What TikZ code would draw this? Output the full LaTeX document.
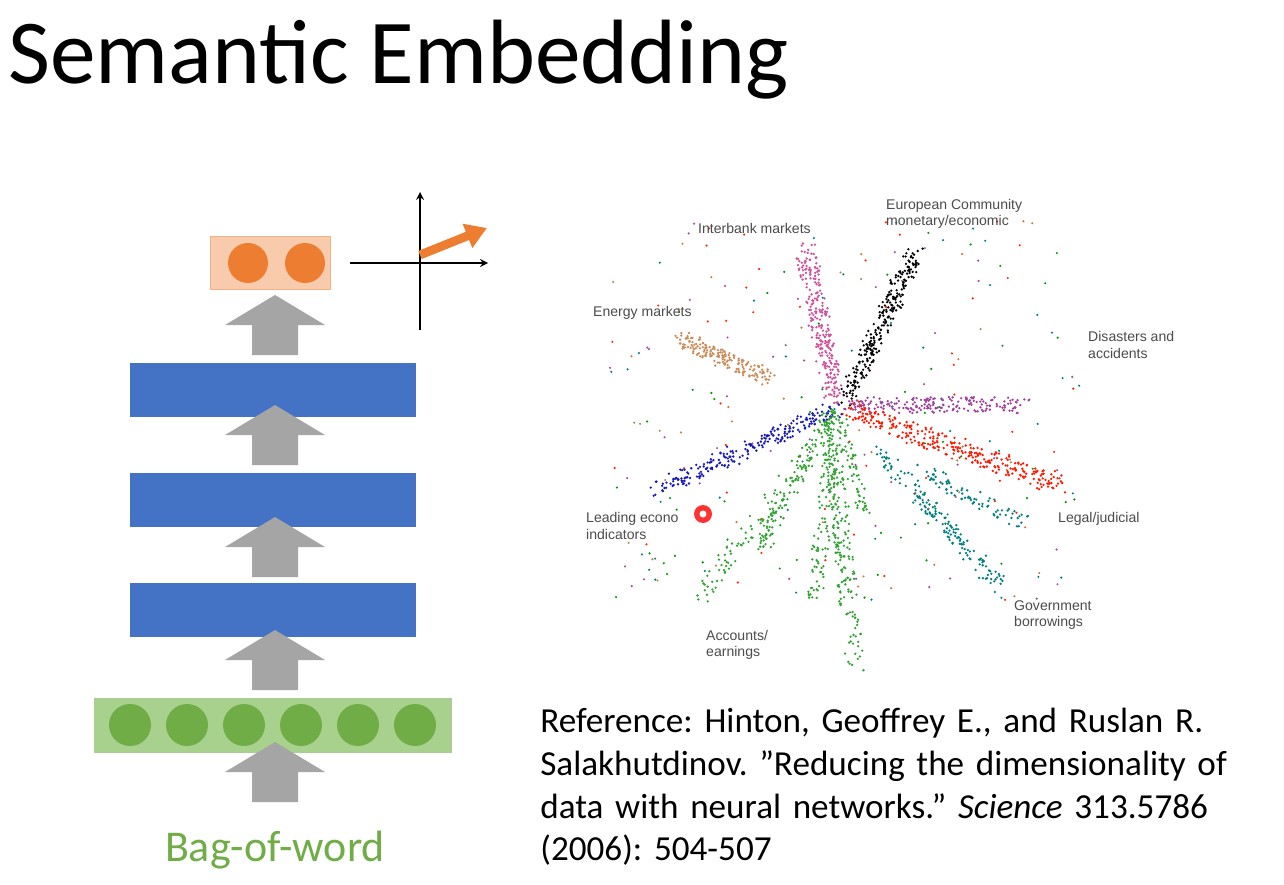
\documentclass[tikz,border=0pt]{standalone}
\usepackage{fontspec}
\setmainfont{Carlito}
\newfontfamily\lab{Liberation Sans}
\usetikzlibrary{arrows.meta}
\definecolor{barblue}{HTML}{4472C4}
\definecolor{grn}{HTML}{70AD47}
\definecolor{lgrn}{HTML}{A9D18E}
\definecolor{org}{HTML}{ED7D31}
\definecolor{lorg}{HTML}{F8CBAD}
\definecolor{gry}{HTML}{A5A5A5}
\newcommand\myarm[7]{\foreach \i in {1,...,#6}{%
 \pgfmathsetmacro\tt{rnd}%
 \pgfmathsetmacro\px{#2+(#4-#2)*\tt+rand*#7}%
 \pgfmathsetmacro\py{#3+(#5-#3)*\tt+rand*#7}%
 \fill[#1] (\px,\py) circle (1.3);}}
\newcommand\uparr[2]{\fill[gry] (#1,#2) -- ++(50,30) -- ++(-27,0) -- ++(0,30) -- ++(-46,0) -- ++(0,-30) -- ++(-27,0) -- cycle;}
\begin{document}
\frenchspacing
\begin{tikzpicture}[x=0.02cm,y=-0.02cm,
 bar/.style={fill=barblue,draw=none},
 lbl/.style={font=\lab\fontsize{8}{9.5}\selectfont,text=black!70,align=left,anchor=west}]
\useasboundingbox (0,0) rectangle (1284,885);
\fill[white] (0,0) rectangle (1284,885);
\node[anchor=base west,font=\fontsize{52}{58}\selectfont,inner sep=0] (title) at (8,84) {Semantic Embedding};
% network
\node[fill=lorg,draw=org!60,minimum width=2.4cm,minimum height=1.06cm,inner sep=0] (out) at (270,263) {};
\fill[org] (248,263) circle (20); \fill[org] (305,263) circle (20);
\uparr{275}{295}
\node[bar,minimum width=5.74cm,minimum height=1.08cm] (h3) at (273,390) {};
\uparr{275}{405}
\node[bar,minimum width=5.74cm,minimum height=1.08cm] (h2) at (273,500) {};
\uparr{275}{517}
\node[bar,minimum width=5.74cm,minimum height=1.08cm] (h1) at (273,610) {};
\uparr{275}{630}
\node[fill=lgrn,draw=grn!60,minimum width=7.14cm,minimum height=1.08cm,inner sep=0] (in) at (273,725) {};
\foreach \x in {130,187,244,301,358,415}{\fill[grn] (\x,725) circle (21);}
\uparr{275}{742}
\node[text=grn,font=\fontsize{25}{30}\selectfont] (bow) at (275,850) {Bag-of-word};
% axes
\coordinate (xl) at (350,263); \coordinate (xr) at (488,263);
\coordinate (yb) at (420,330); \coordinate (yt) at (420,192);
\draw[-stealth,line width=1pt] (xl) -- (xr);
\draw[-stealth,line width=1pt] (yb) -- (yt);
\coordinate (vo) at (420,255); \coordinate (ve) at (487,228);
\draw[org,line width=5pt,-{Triangle[length=12pt,width=14pt]}] (vo) -- (ve);
% scatter
\pgfmathsetseed{7}
\foreach \i in {1,...,260}{\pgfmathsetmacro\px{840+rand*240}\pgfmathsetmacro\py{410+rand*190}
 \pgfmathsetmacro\c{int(mod(\i,5))}
 \ifcase\c \fill[red!70!orange] (\px,\py) circle (1.2);\or \fill[violet!70] (\px,\py) circle (1.2);\or \fill[teal] (\px,\py) circle (1.2);\or \fill[green!60!black] (\px,\py) circle (1.2);\or \fill[brown] (\px,\py) circle (1.2);\fi}
\myarm{magenta!60!violet!80}{835}{400}{805}{250}{260}{10}
\myarm{black}{845}{400}{915}{255}{260}{9}
\myarm{brown!80!pink}{680}{340}{770}{378}{180}{8}
\myarm{violet!75}{850}{405}{1025}{405}{200}{8}
\myarm{red!80!orange}{850}{410}{1060}{485}{300}{10}
\myarm{teal}{880}{450}{1000}{585}{160}{8}
\myarm{teal}{920}{470}{1025}{525}{80}{8}
\myarm{blue!70!black!90}{835}{410}{655}{490}{230}{8}
\myarm{green!55!black!80}{835}{415}{700}{600}{110}{9}
\myarm{green!55!black!80}{830}{415}{760}{550}{110}{8}
\myarm{green!55!black!80}{830}{415}{855}{665}{200}{9}
\myarm{green!55!black!80}{835}{415}{815}{600}{120}{8}
\myarm{green!55!black!80}{840}{420}{865}{520}{60}{6}
\fill[red!80] (703,514) circle (9); \fill[white] (703,514) circle (3.5);
\node[lbl] (l1) at (692,228) {Interbank markets};
\node[lbl] (l2) at (880,214) {European Community\\monetary/economic};
\node[lbl] (l3) at (587,313) {Energy markets};
\node[lbl] (l4) at (1082,345) {Disasters and\\accidents};
\node[lbl] (l5) at (580,526) {Leading econo\\indicators};
\node[lbl] (l6) at (1052,519) {Legal/judicial};
\node[lbl] (l7) at (1008,615) {Government\\borrowings};
\node[lbl] (l8) at (700,645) {Accounts/\\earnings};
% reference
\node[anchor=north west,align=left,text width=14cm,font=\fontsize{20}{24.3}\selectfont,inner sep=0] (ref) at (540,708)
 {Reference: Hinton, Geoffrey E., and Ruslan R. Salakhutdinov. \symbol{34}Reducing the dimensionality of data with neural networks.\symbol{34} \textit{Science} 313.5786 (2006): 504-507};
\end{tikzpicture}
\end{document}
